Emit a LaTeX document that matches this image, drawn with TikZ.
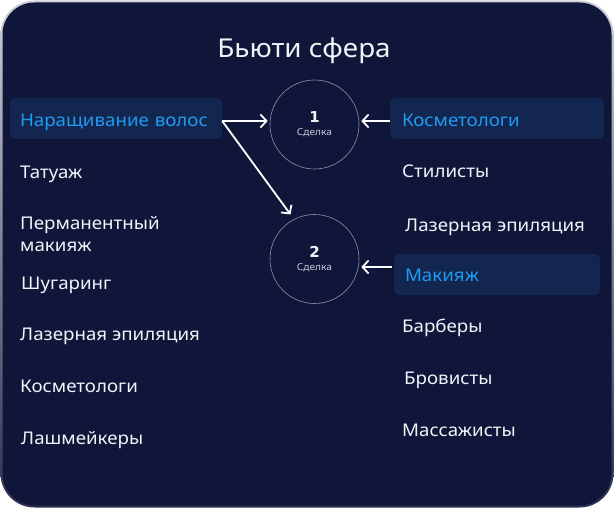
\documentclass[tikz,border=0pt]{standalone}
\usepackage{fontspec}
\setmainfont{Noto Sans}[FakeStretch=1.07]
\newfontfamily\digitfont{DejaVu Sans}
\usetikzlibrary{arrows.meta,calc}
\definecolor{navy}{HTML}{10163A}
\definecolor{boxblue}{HTML}{132650}
\definecolor{hlblue}{HTML}{1F9BF2}
\definecolor{itemwhite}{HTML}{F2F3F7}
\definecolor{circlegrey}{HTML}{8C90A8}
\definecolor{subgrey}{HTML}{C8CAD6}
\definecolor{bordertop}{HTML}{CDCED6}
\definecolor{borderbot}{HTML}{2B3050}
\begin{document}
\begin{tikzpicture}[x=1pt,y=-1pt,
  item/.style={anchor=base west, text=itemwhite, inner sep=0pt,
    font=\fontsize{17.5}{22}\selectfont, align=left},
  hlbox/.style={fill=boxblue, rounded corners=6pt, text=hlblue,
    font=\fontsize{17.5}{20}\selectfont, align=left,
    minimum height=41pt, text height=13pt, text depth=0pt, inner ysep=0pt},
  deal/.style={circle, draw=circlegrey, line width=0.6pt, minimum size=89pt,
    inner sep=0pt, text=itemwhite, align=center},
  arr/.style={draw=white, line width=1.8pt,
    -{Straight Barb[length=6pt,width=13pt,line width=1.8pt]}}]
\useasboundingbox (0,0) rectangle (614,508);
\fill[white] (0,0) rectangle (614,508);
\shade[top color=bordertop, bottom color=borderbot, rounded corners=34pt]
  (0.5,0.5) rectangle (613.5,507.5);
\fill[navy, rounded corners=32pt] (2.5,2.5) rectangle (611.5,505.5);

% title
\node[anchor=base, text=itemwhite, font=\fontsize{26}{30}\selectfont, inner sep=0pt]
  (title) at (304,58) {Бьюти сфера};

% circles
\node[deal] (c1) at (314.5,124.5)
  {{\digitfont\fontsize{15}{15}\selectfont\bfseries 1}\\[1pt]{\fontsize{9.5}{10}\selectfont\color{subgrey}Сделка}};
\node[deal] (c2) at (314.5,259)
  {{\digitfont\fontsize{15}{15}\selectfont\bfseries 2}\\[1pt]{\fontsize{9.5}{10}\selectfont\color{subgrey}Сделка}};

% highlighted boxes
\node[hlbox, text height=17pt, text width=192pt, inner xsep=10pt] (b1) at (116,118.5) {Наращивание волос};
\node[hlbox, text height=17pt, text width=190pt, inner xsep=12pt] (b3) at (497,118.5) {Косметологи};
\node[hlbox, text width=184pt, inner xsep=11pt] (b4) at (497,274.5) {Макияж};

% left list
\node[item] (l1) at (20,179) {Татуаж};
\node[item] (l2) at (20,252) {Перманентный\\макияж};
\node[item] (l3) at (21,290) {Шугаринг};
\node[item] (l4) at (20,341) {Лазерная эпиляция};
\node[item] (l5) at (20,392) {Косметологи};
\node[item] (l6) at (21,444) {Лашмейкеры};

% right list
\node[item] (r1) at (402,178) {Стилисты};
\node[item] (r2) at (405,232) {Лазерная эпиляция};
\node[item] (r3) at (402,333) {Барберы};
\node[item] (r4) at (404,384) {Бровисты};
\node[item] (r5) at (402,436) {Массажисты};

% connectors
\coordinate (s1) at ($(b1.east)+(0,2.5)$);
\draw[arr] (s1) -- ($(c1.west |- s1)+(-2,0)$);
\draw[arr] (s1) -- ($(c2.118)+(-3,-5)$);
\coordinate (s3) at ($(b3.west)+(0,2.5)$);
\draw[arr] (s3) -- ($(c1.east |- s3)+(2,0)$);
\draw[arr] ($(b4.west)+(-2,-7.5)$) -- ($(c2.east)+(2,8)$);
\end{tikzpicture}
\end{document}
